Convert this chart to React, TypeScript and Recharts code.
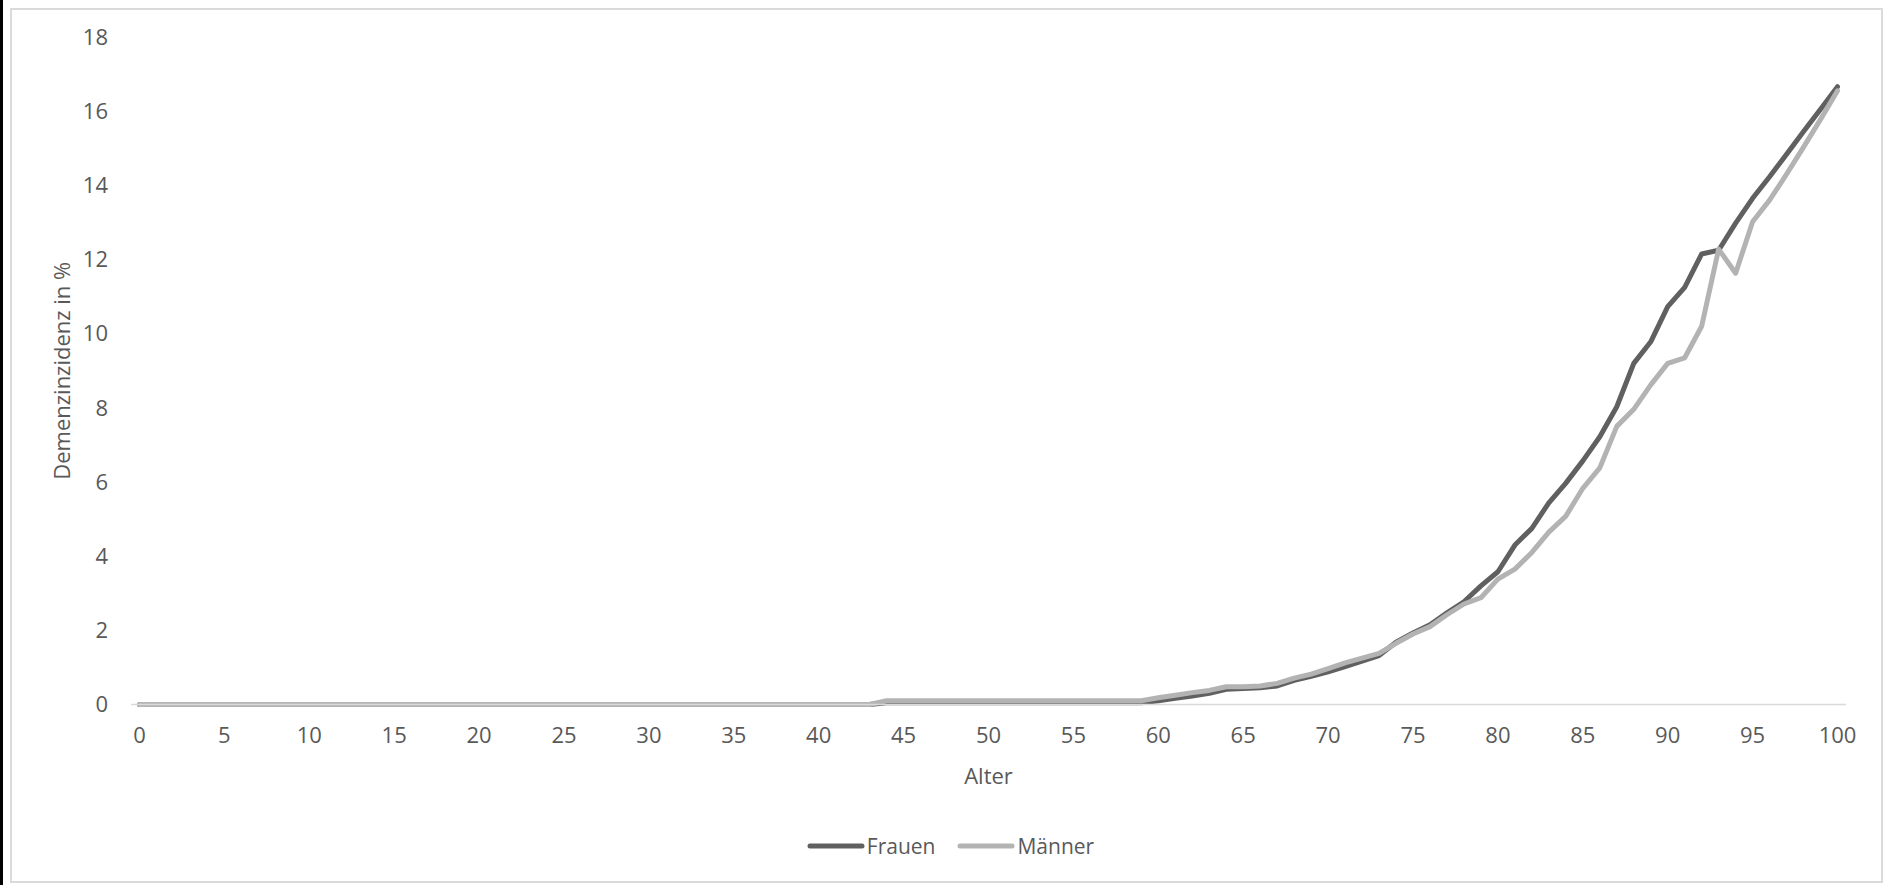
import { Legend, Line, LineChart, XAxis, YAxis } from "recharts";

const ages = [
  0, 1, 2, 3, 4, 5, 6, 7, 8, 9, 10, 11, 12, 13, 14, 15, 16, 17, 18, 19,
  20, 21, 22, 23, 24, 25, 26, 27, 28, 29, 30, 31, 32, 33, 34, 35, 36, 37, 38, 39,
  40, 41, 42, 43, 44, 45, 46, 47, 48, 49, 50, 51, 52, 53, 54, 55, 56, 57, 58, 59,
  60, 61, 62, 63, 64, 65, 66, 67, 68, 69, 70, 71, 72, 73, 74, 75, 76, 77, 78, 79,
  80, 81, 82, 83, 84, 85, 86, 87, 88, 89, 90, 91, 92, 93, 94, 95, 96, 97, 98, 99,
  100,
];

const frauen = [
  0, 0, 0, 0, 0, 0, 0, 0, 0, 0, 0, 0, 0, 0, 0, 0, 0, 0, 0, 0,
  0, 0, 0, 0, 0, 0, 0, 0, 0, 0, 0, 0, 0, 0, 0, 0, 0, 0, 0, 0,
  0, 0, 0, 0, 0.05, 0.05, 0.05, 0.05, 0.05, 0.05, 0.05, 0.05, 0.05, 0.05, 0.05, 0.05, 0.05, 0.05, 0.05, 0.05,
  0.1, 0.17, 0.23, 0.3, 0.41, 0.43, 0.45, 0.5, 0.65, 0.76, 0.88, 1.02, 1.17, 1.32, 1.68, 1.93, 2.15, 2.47, 2.77, 3.2,
  3.58, 4.3, 4.75, 5.44, 5.97, 6.57, 7.22, 8.03, 9.2, 9.78, 10.73, 11.25, 12.15, 12.25, 12.98, 13.65, 14.23, 14.84, 15.45, 16.05,
  16.66,
];

const maenner = [
  0, 0, 0, 0, 0, 0, 0, 0, 0, 0, 0, 0, 0, 0, 0, 0, 0, 0, 0, 0,
  0, 0, 0, 0, 0, 0, 0, 0, 0, 0, 0, 0, 0, 0, 0, 0, 0, 0, 0, 0,
  0, 0, 0, 0, 0.1, 0.1, 0.1, 0.1, 0.1, 0.1, 0.1, 0.1, 0.1, 0.1, 0.1, 0.1, 0.1, 0.1, 0.1, 0.1,
  0.18, 0.25, 0.32, 0.38, 0.48, 0.48, 0.5, 0.57, 0.71, 0.82, 0.97, 1.12, 1.25, 1.38, 1.65, 1.9, 2.1, 2.42, 2.71, 2.88,
  3.38, 3.65, 4.1, 4.65, 5.08, 5.83, 6.38, 7.5, 7.96, 8.62, 9.2, 9.35, 10.2, 12.28, 11.63, 13.02, 13.6, 14.3, 15.03, 15.78,
  16.55,
];

const xTicks = [0, 5, 10, 15, 20, 25, 30, 35, 40, 45, 50, 55, 60, 65, 70, 75, 80, 85, 90, 95, 100];
const yTicks = [0, 2, 4, 6, 8, 10, 12, 14, 16, 18];

const data = ages.map((age, i) => ({ age, frauen: frauen[i], maenner: maenner[i] }));

const textColor = "#595959";
const font = "'Open Sans', sans-serif";

function LegendContent({ payload }: any) {
  return (
    <div style={{ display: "flex", justifyContent: "center", alignItems: "center", gap: 22 }}>
      {(payload || []).map((p: any) => (
        <div key={p.value} style={{ display: "flex", alignItems: "center" }}>
          <svg width={58} height={8}>
            <line x1={3} y1={4} x2={55} y2={4} stroke={p.color} strokeWidth={5} strokeLinecap="round" />
          </svg>
          <span style={{ color: textColor, fontSize: 21, fontFamily: font, marginLeft: 2, lineHeight: "28px" }}>
            {p.value}
          </span>
        </div>
      ))}
    </div>
  );
}

export default function App() {
  return (
    <div style={{ position: "absolute", left: 0, top: 0, width: 1901, height: 885, background: "#fff" }}>
      <div style={{ position: "absolute", left: 0, top: 0, width: 3, height: 885, background: "#000" }} />
      <div
        style={{
          position: "absolute",
          left: 10,
          top: 8,
          width: 1873,
          height: 875,
          border: "2px solid #dadada",
          boxSizing: "border-box",
        }}
      />
      <div style={{ position: "absolute", left: 0, top: 0 }}>
        <LineChart
          width={1901}
          height={885}
          data={data}
          margin={{ top: 37, right: 55, bottom: 140.5, left: 0 }}
          style={{ fontFamily: font }}
        >
          <XAxis
            dataKey="age"
            type="number"
            domain={[-0.5, 100.5]}
            ticks={xTicks}
            interval={0}
            height={40}
            tickLine={false}
            tickMargin={17}
            axisLine={{ stroke: "#d9d9d9", strokeWidth: 1.5 }}
            tick={{ fill: textColor, fontSize: 22 }}
            label={{
              content: ({ viewBox }: any) => (
                <text
                  x={viewBox.x + viewBox.width / 2}
                  y={viewBox.y + 79}
                  textAnchor="middle"
                  fill={textColor}
                  fontSize={22}
                  fontFamily={font}
                >
                  Alter
                </text>
              ),
            }}
          />
          <YAxis
            type="number"
            domain={[0, 18]}
            ticks={yTicks}
            interval={0}
            width={131}
            axisLine={false}
            tickLine={false}
            tickMargin={17}
            tick={{ fill: textColor, fontSize: 22 }}
            label={{
              content: ({ viewBox }: any) => {
                const x = viewBox.x + 70;
                const y = viewBox.y + viewBox.height / 2;
                return (
                  <text
                    x={x}
                    y={y}
                    transform={`rotate(-90 ${x} ${y})`}
                    textAnchor="middle"
                    fill={textColor}
                    fontSize={22}
                    fontFamily={font}
                  >
                    Demenzinzidenz in %
                  </text>
                );
              },
            }}
          />
          <Legend
            verticalAlign="middle"
            align="center"
            layout="horizontal"
            content={<LegendContent />}
            wrapperStyle={{ top: 832, left: 0, width: 1901 }}
          />
          <Line
            type="linear"
            dataKey="frauen"
            name="Frauen"
            stroke="#606060"
            strokeWidth={5}
            strokeLinejoin="round"
            strokeLinecap="round"
            dot={false}
            isAnimationActive={false}
          />
          <Line
            type="linear"
            dataKey="maenner"
            name="Männer"
            stroke="#b3b3b3"
            strokeWidth={5}
            strokeLinejoin="round"
            strokeLinecap="round"
            dot={false}
            isAnimationActive={false}
          />
        </LineChart>
      </div>
    </div>
  );
}
